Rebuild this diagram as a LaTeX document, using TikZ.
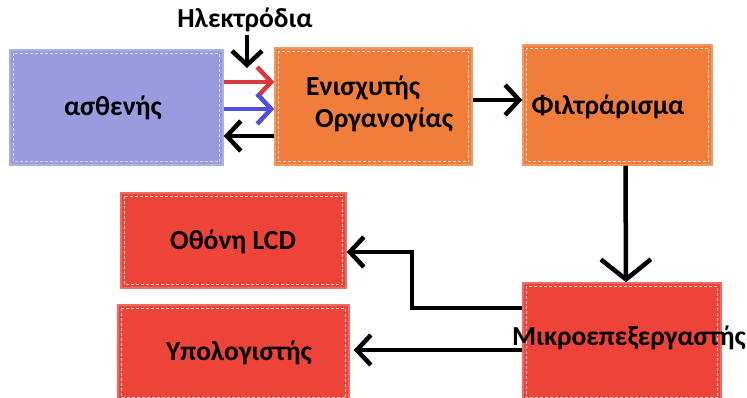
\documentclass[tikz,border=0pt]{standalone}
\usepackage{fontspec}
\setmainfont{Carlito}
\usetikzlibrary{arrows.meta}
\definecolor{cpurple}{HTML}{9A9ADF}
\definecolor{corange}{HTML}{F07E3A}
\definecolor{cred}{HTML}{EE4339}
\definecolor{carrred}{HTML}{D63A3A}
\definecolor{carrblue}{HTML}{4F4FE0}
\tikzset{
  blk/.style={draw=#1!80!white, fill=#1, line width=1.5pt, minimum width=100pt, minimum height=100pt, inner sep=0pt},
  lbl/.style={font=\fontsize{27.5}{32}\selectfont\bfseries, inner sep=0pt},
  con/.style={line width=4.5pt, -{Straight Barb[length=14pt, width=30pt, line width=4.5pt]}},
  bigcon/.style={line width=4.5pt, -{Straight Barb[length=20pt, width=50pt, line width=4.5pt]}},
}
\begin{document}
\begin{tikzpicture}[x=1pt,y=-1pt]
\useasboundingbox (0,0) rectangle (747,398);
\fill[white] (0,0) rectangle (747,398);
% boxes
\node[blk=cpurple, minimum width=213pt, minimum height=115pt] (pat) at (116.5,107.5) {};
\node[blk=corange, minimum width=197pt, minimum height=117pt] (amp) at (373.5,106.5) {};
\node[blk=corange, minimum width=189pt, minimum height=120pt] (filt) at (617.5,105) {};
\node[blk=cred, minimum width=225pt, minimum height=95pt] (lcd) at (233.5,240.5) {};
\node[blk=cred, minimum width=231pt, minimum height=96pt] (pc) at (233.5,353) {};
\node[blk=cred, minimum width=198pt, minimum height=118pt] (mcu) at (622,342) {};
% inner sketch borders
\foreach \n in {pat,amp,filt,lcd,pc,mcu}{
  \draw[white!75!gray, line width=0.6pt, densely dashed]
    ([xshift=4pt,yshift=-4pt]\n.north west) rectangle ([xshift=-4pt,yshift=4pt]\n.south east);
}
% texts
\node[lbl] (pattxt) at (113,108) {ασθενής};
\node[lbl, align=left, anchor=west] (amptxt) at (306,104) {Ενισχυτής\\\hspace*{9pt}Οργανογίας};
\node[lbl] (filttxt) at (608,107) {Φιλτράρισμα};
\node[lbl] (lcdtxt) at (233,242) {Οθόνη LCD};
\node[lbl] (pctxt) at (239,353) {Υπολογιστής};
\node[lbl] (mcutxt) at (629,338) {Μικροεπεξεργαστής};
\node[lbl] (el) at (245,20) {Ηλεκτρόδια};
% connectors
\coordinate (etip) at (247,68);
\coordinate (rY) at (0,82);
\coordinate (bY) at (0,109);
\coordinate (kY) at (0,136);
\coordinate (fY) at (0,100);
\coordinate (bend) at (412,252);
\coordinate (m1) at (0,308);
\coordinate (m2) at (0,350);
\draw[con] ([xshift=2pt,yshift=-3pt]el.south) -- (etip);
\draw[con, draw=carrred] (pat.east |- rY) -- (amp.west |- rY);
\draw[con, draw=carrblue] (pat.east |- bY) -- (amp.west |- bY);
\draw[con] (amp.west |- kY) -- (pat.east |- kY);
\draw[con] (amp.east |- fY) -- (filt.west |- fY);
\draw[bigcon] ([xshift=8pt]filt.south) -- ([xshift=4pt]mcu.north);
\draw[con, line join=miter] (mcu.west |- m1) -| (bend) -- (lcd.east |- bend);
\draw[con] (mcu.west |- m2) -- ([xshift=4pt]pc.east |- m2);
\end{tikzpicture}
\end{document}
